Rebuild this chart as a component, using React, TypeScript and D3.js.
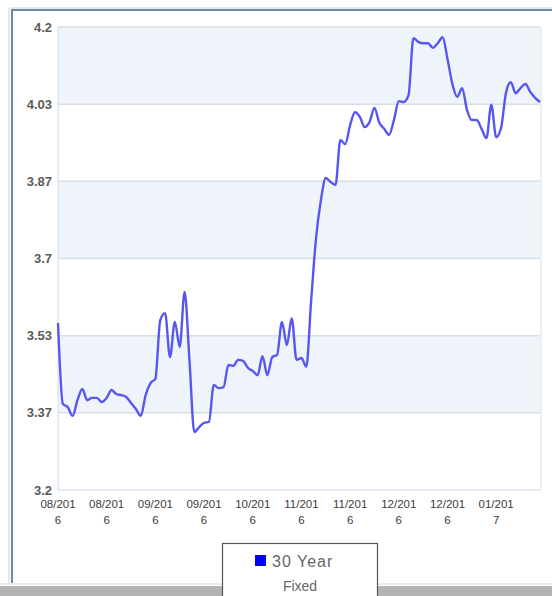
import React from 'react';
import * as d3 from 'd3';

// 30 year fixed rate, one reading per business day (Aug 2016 - Jan 2017)
const rates = [
  3.561, 3.386, 3.379, 3.360, 3.394, 3.418, 3.394, 3.399, 3.399, 3.390,
  3.399, 3.416, 3.407, 3.405, 3.401, 3.388, 3.375, 3.360, 3.405, 3.431,
  3.440, 3.567, 3.582, 3.487, 3.563, 3.509, 3.628, 3.481, 3.325, 3.336,
  3.345, 3.347, 3.427, 3.420, 3.422, 3.470, 3.468, 3.481, 3.479, 3.464,
  3.457, 3.448, 3.489, 3.448, 3.487, 3.492, 3.563, 3.513, 3.571, 3.481,
  3.485, 3.466, 3.610, 3.744, 3.826, 3.874, 3.865, 3.859, 3.956, 3.947,
  3.988, 4.016, 4.006, 3.984, 3.995, 4.025, 3.993, 3.980, 3.967, 3.999,
  4.040, 4.038, 4.053, 4.176, 4.168, 4.165, 4.165, 4.155, 4.165, 4.178,
  4.131, 4.077, 4.049, 4.068, 4.021, 3.999, 3.999, 3.980, 3.960, 4.032,
  3.962, 3.982, 4.057, 4.081, 4.057, 4.068, 4.077, 4.060, 4.047, 4.038,
];

const xTickIndex = [0, 10, 20, 30, 40, 50, 60, 70, 80, 90];
const xTickLabels = [
  '08/2016', '08/2016', '09/2016', '09/2016', '10/2016',
  '11/2016', '11/2016', '12/2016', '12/2016', '01/2017',
];
const yMin = 3.2;
const yMax = 4.2;
const yTicks = d3.range(0, 7).map((k) => yMin + ((yMax - yMin) * k) / 6);
const seriesName = ['30 Year', 'Fixed'];

const W = 552;
const H = 596;
const plot = { left: 58, right: 540, top: 27, bottom: 490 };

export default function App() {
  const x = d3.scaleLinear().domain([0, rates.length - 1]).range([plot.left, plot.right]);
  const y = d3.scaleLinear().domain([yMin, yMax]).range([plot.bottom, plot.top]);

  const line = d3
    .line<number>()
    .x((_, i) => x(i))
    .y((d) => y(d))
    .curve(d3.curveMonotoneX);

  const fmt = (v: number) => String(+v.toFixed(2));

  return (
    <svg
      width={W}
      height={H}
      style={{ position: 'fixed', left: 0, top: 0, background: '#fff' }}
      fontFamily="'Liberation Sans', Arial, sans-serif"
    >
      {/* outer frame */}
      <rect x={0} y={0} width={W} height={H} fill="#fff" />
      <line x1={10} x2={W} y1={8} y2={8} stroke="#c9d3d9" strokeWidth={1} />
      <line x1={11} x2={W} y1={10} y2={10} stroke="#6b8c9c" strokeWidth={2} />
      <line x1={9} x2={9} y1={8} y2={585} stroke="#c9d3d9" strokeWidth={1} />
      <line x1={12} x2={12} y1={9} y2={585} stroke="#6b8c9c" strokeWidth={2} />

      {/* alternating bands */}
      {yTicks.slice(0, -1).map((t, i) => (
        <rect
          key={'b' + i}
          x={plot.left}
          y={y(yTicks[i + 1])}
          width={plot.right - plot.left}
          height={y(t) - y(yTicks[i + 1])}
          fill={i % 2 === 1 ? '#eff4fb' : '#ffffff'}
        />
      ))}
      {yTicks.map((t, i) => (
        <line
          key={'g' + i}
          x1={plot.left}
          x2={plot.right}
          y1={y(t)}
          y2={y(t)}
          stroke={i === 0 ? '#dfe5f2' : '#d3e0ea'}
          strokeWidth={1.5}
        />
      ))}
      <line x1={plot.left} x2={plot.left} y1={plot.top} y2={plot.bottom} stroke="#dfe6f4" strokeWidth={1.5} />
      <line x1={plot.right + 1} x2={plot.right + 1} y1={plot.top} y2={plot.bottom} stroke="#e4e8ee" strokeWidth={1.5} />

      {/* y labels */}
      {yTicks.map((t, i) => (
        <text
          key={'yl' + i}
          x={52}
          y={y(t) + 4.5}
          textAnchor="end"
          fontSize={13}
          fontWeight="bold"
          fill="#5a5a5a"
        >
          {fmt(t)}
        </text>
      ))}

      {/* x labels */}
      {xTickIndex.map((idx, i) => (
        <text key={'xl' + i} x={x(idx)} textAnchor="middle" fontSize={11.5} fill="#3c3c3c">
          <tspan x={x(idx)} y={508}>{xTickLabels[i].slice(0, 6)}</tspan>
          <tspan x={x(idx)} y={524}>{xTickLabels[i].slice(6)}</tspan>
        </text>
      ))}

      {/* series */}
      <path d={line(rates) || ''} fill="none" stroke="#5757f0" strokeWidth={2.4} strokeLinejoin="round" />

      {/* bottom bar */}
      <rect x={0} y={583} width={W} height={2} fill="#e9ecef" />
      <rect x={0} y={586} width={W} height={10} fill="#b4b4b6" />

      {/* legend */}
      <rect x={222.5} y={543.5} width={155} height={60} fill="#fff" stroke="#555" strokeWidth={1.2} />
      <rect x={255} y={555} width={11} height={11} fill="#0000ff" />
      <text x={272} y={567} fontSize={16} fill="#666" letterSpacing={1}>
        {seriesName[0]}
      </text>
      <text x={300} y={591} fontSize={14} fill="#666" textAnchor="middle">
        {seriesName[1]}
      </text>
    </svg>
  );
}
